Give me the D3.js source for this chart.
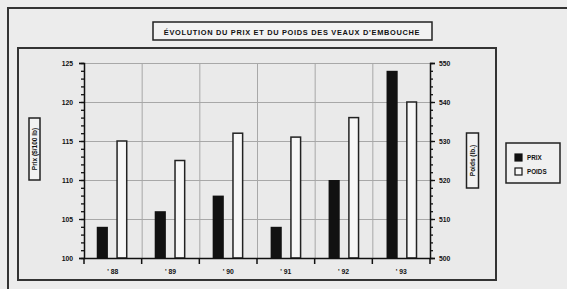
<!DOCTYPE html>
<html>
<head>
<meta charset="utf-8">
<script src="https://cdn.jsdelivr.net/npm/d3@7"></script>
<style>
  body { margin: 0; background: #ececec; }
  text { font-family: "Liberation Sans", Arial, sans-serif; fill: #111; }
</style>
</head>
<body>
<script>
// data
var years = ["' 88", "' 89", "' 90", "' 91", "' 92", "' 93"];
var prix = [104, 106, 108, 104, 110, 124];
var poids = [530, 525, 532, 531, 536, 540];
var seriesNames = ['PRIX', 'POIDS'];
var leftTicks = [100, 105, 110, 115, 120, 125];
var rightTicks = [500, 510, 520, 530, 540, 550];

var W = 567, H = 289;
var plot = { left: 84, right: 430, top: 63, bottom: 258 };

var svg = d3.select('body').append('svg')
  .attr('width', W).attr('height', H);

svg.append('rect').attr('width', W).attr('height', H).attr('fill', '#ececec');

// outer frame (only top and left are in view)
svg.append('rect').attr('x', 8).attr('y', 8).attr('width', 620).attr('height', 320)
  .attr('fill', 'none').attr('stroke', '#333').attr('stroke-width', 2);
// inner box
svg.append('rect').attr('x', 18).attr('y', 48).attr('width', 478).attr('height', 232)
  .attr('fill', '#eaeaea').attr('stroke', '#333').attr('stroke-width', 2);

// title
svg.append('rect').attr('x', 153).attr('y', 22).attr('width', 279).attr('height', 18)
  .attr('fill', '#f2f2f2').attr('stroke', '#222').attr('stroke-width', 1.5);
svg.append('text').attr('x', 292).attr('y', 34.5).attr('text-anchor', 'middle')
  .style('font-size', '7.4px').style('font-weight', 'bold').style('letter-spacing', '0.7px')
  .text("ÉVOLUTION DU PRIX ET DU POIDS DES VEAUX D'EMBOUCHE");

// scales
var xCat = d3.scaleBand().domain(years).range([plot.left, plot.right]);
var x0 = d3.scaleBand().domain(years).range([plot.left, plot.right])
  .paddingInner(0.47).paddingOuter(0.22);
var x1 = d3.scaleBand().domain(seriesNames).range([0, x0.bandwidth()]).paddingInner(0.43);
var yL = d3.scaleLinear().domain([100, 125]).range([plot.bottom, plot.top]);
var yR = d3.scaleLinear().domain([500, 550]).range([plot.bottom, plot.top]);

// gridlines
var grid = svg.append('g').attr('stroke', '#a8a8a8').attr('stroke-width', 1);
grid.selectAll('.hg').data(leftTicks.slice(1)).enter().append('line')
  .attr('x1', plot.left).attr('x2', plot.right)
  .attr('y1', function (d) { return yL(d) + 0.5; })
  .attr('y2', function (d) { return yL(d) + 0.5; });
grid.selectAll('.vg').data(years.slice(1)).enter().append('line')
  .attr('x1', function (d) { return xCat(d) + 0.5; })
  .attr('x2', function (d) { return xCat(d) + 0.5; })
  .attr('y1', plot.top).attr('y2', plot.bottom);

// bars
var groups = svg.selectAll('.grp').data(years).enter().append('g')
  .attr('transform', function (d) { return 'translate(' + x0(d) + ',0)'; });
groups.append('rect')
  .attr('x', x1('PRIX'))
  .attr('y', function (d, i) { return yL(prix[i]); })
  .attr('width', x1.bandwidth())
  .attr('height', function (d, i) { return plot.bottom - yL(prix[i]); })
  .attr('fill', '#111');
groups.append('rect')
  .attr('x', x1('POIDS') + 0.75)
  .attr('y', function (d, i) { return yR(poids[i]); })
  .attr('width', x1.bandwidth() - 1.5)
  .attr('height', function (d, i) { return plot.bottom - yR(poids[i]); })
  .attr('fill', '#f7f7f7').attr('stroke', '#222').attr('stroke-width', 1.5);

// left axis
svg.append('g').attr('transform', 'translate(' + plot.left + ',0)')
  .call(d3.axisLeft(yL).tickValues(leftTicks).tickSize(5).tickPadding(6));
svg.append('g').attr('transform', 'translate(' + plot.left + ',0)')
  .call(d3.axisLeft(yL).ticks(25).tickSize(3).tickFormat(''))
  .select('.domain').remove();

// right axis
svg.append('g').attr('transform', 'translate(' + plot.right + ',0)')
  .call(d3.axisRight(yR).tickValues(rightTicks).tickSize(5).tickPadding(4));
svg.append('g').attr('transform', 'translate(' + plot.right + ',0)')
  .call(d3.axisRight(yR).ticks(25).tickSize(3).tickFormat(''))
  .select('.domain').remove();

// bottom axis
var axB = svg.append('g').attr('transform', 'translate(0,' + plot.bottom + ')')
  .call(d3.axisBottom(xCat).tickSize(0).tickPadding(11));
axB.append('g').selectAll('line').data(years.concat(['end'])).enter().append('line')
  .attr('x1', function (d, i) { return plot.left + i * xCat.step(); })
  .attr('x2', function (d, i) { return plot.left + i * xCat.step(); })
  .attr('y1', 0).attr('y2', 6).attr('stroke', '#111').attr('stroke-width', 1.5);

svg.selectAll('.domain').attr('stroke', '#111').attr('stroke-width', 1.5);
svg.selectAll('.tick line').attr('stroke', '#111').attr('stroke-width', 1.3);
svg.selectAll('.tick text').style('font-size', '6.8px').style('font-weight', 'bold')
  .attr('fill', '#222');

// y-axis titles in boxes
function sideLabel(cx, y0, y1, w, label) {
  svg.append('rect').attr('x', cx - w / 2).attr('y', y0).attr('width', w).attr('height', y1 - y0)
    .attr('fill', '#f2f2f2').attr('stroke', '#222').attr('stroke-width', 1.5);
  svg.append('text')
    .attr('transform', 'translate(' + (cx + 2.3) + ',' + ((y0 + y1) / 2) + ') rotate(-90)')
    .attr('text-anchor', 'middle')
    .style('font-size', '6.5px').style('font-weight', 'bold')
    .text(label);
}
sideLabel(34.5, 118, 180, 11, 'Prix ($/100 lb)');
sideLabel(472.5, 133, 188, 12, 'Poids (lb.)');

// legend
svg.append('rect').attr('x', 506).attr('y', 143).attr('width', 54).attr('height', 40)
  .attr('fill', '#f0f0f0').attr('stroke', '#222').attr('stroke-width', 1.5);
var leg = svg.selectAll('.leg').data(seriesNames).enter().append('g')
  .attr('transform', function (d, i) { return 'translate(515,' + (154 + i * 14) + ')'; });
leg.append('rect').attr('width', 7).attr('height', 7)
  .attr('fill', function (d) { return d === 'PRIX' ? '#111' : '#f7f7f7'; })
  .attr('stroke', '#111').attr('stroke-width', 1.2);
leg.append('text').attr('x', 12).attr('y', 6)
  .style('font-size', '6.3px').style('font-weight', 'bold')
  .text(function (d) { return d; });
</script>
</body>
</html>
